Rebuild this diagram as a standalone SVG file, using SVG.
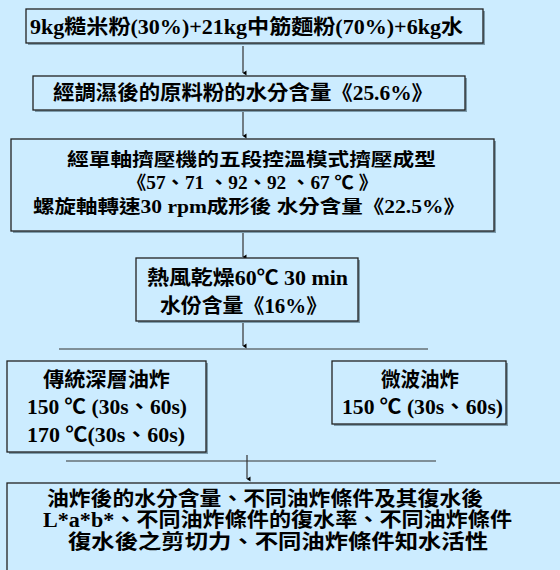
<svg xmlns="http://www.w3.org/2000/svg" width="560" height="570" viewBox="0 0 560 570">
<style>
.bg{fill:#CCECFF}
.box{fill:#CCECFF;stroke:#222;stroke-width:1.3}
.sh{fill:#7D9CAD}
.t{font-family:"Liberation Serif","Noto Sans CJK TC",serif;font-weight:bold;font-size:20px;fill:#000}
.s{font-size:18.5px}
.c{font-family:"Noto Sans CJK TC",sans-serif}
.ln{stroke:#333;stroke-width:1.2;fill:none}
</style>
<defs>
<marker id="ah" viewBox="0 0 6 6" refX="3" refY="5.5" markerWidth="6" markerHeight="6" orient="auto-start-reverse" markerUnits="userSpaceOnUse">
<path d="M0.5,2 L5.5,2 L3,6 Z" fill="#000"/>
</marker>
</defs>
<rect class="bg" x="0" y="0" width="560" height="570"/>
<g id="connectors">
<line class="ln" x1="243" y1="46" x2="243" y2="73" marker-end="url(#ah)"/>
<line class="ln" x1="243" y1="112" x2="243" y2="136" marker-end="url(#ah)"/>
<line class="ln" x1="243" y1="233" x2="243" y2="257" marker-end="url(#ah)"/>
<line class="ln" x1="243" y1="323" x2="243" y2="346" marker-end="url(#ah)"/>
<line class="ln" x1="59" y1="349" x2="428" y2="349"/>
<line class="ln" x1="66" y1="461" x2="436" y2="461"/>
<line class="ln" x1="247" y1="455" x2="247" y2="479" marker-end="url(#ah)"/>
</g>
<g id="n1">
<rect class="sh" x="28" y="11" width="457" height="34"/>
<rect class="box" x="26" y="9" width="457" height="34"/>
<text class="t" x="30" y="34" textLength="433" lengthAdjust="spacingAndGlyphs">9kg糙米粉(30%)+21kg中筋麵粉(70%)+6kg水</text>
</g>
<g id="n2">
<rect class="sh" x="35" y="78" width="432" height="34"/>
<rect class="box" x="33" y="76" width="432" height="34"/>
<text class="t" x="53" y="100" textLength="380" lengthAdjust="spacingAndGlyphs">經調濕後的原料粉的水分含量<tspan class="c">《</tspan>25.6%<tspan class="c">》</tspan></text>
</g>
<g id="n3">
<rect class="sh" x="13" y="141" width="483" height="92"/>
<rect class="box" x="11" y="139" width="483" height="92"/>
<text class="t s" x="67" y="166" textLength="369" lengthAdjust="spacingAndGlyphs">經單軸擠壓機的五段控溫模式擠壓成型</text>
<text class="t s" x="127" y="189" textLength="251" lengthAdjust="spacingAndGlyphs"><tspan class="c">《</tspan>57、71 、92、92 、67 ℃ <tspan class="c">》</tspan></text>
<text class="t s" x="33" y="213" textLength="432" lengthAdjust="spacingAndGlyphs">螺旋軸轉速30 rpm成形後 水分含量<tspan class="c">《</tspan>22.5%<tspan class="c">》</tspan></text>
</g>
<g id="n4">
<rect class="sh" x="138" y="260" width="222" height="63"/>
<rect class="box" x="136" y="258" width="222" height="63"/>
<text class="t" x="147" y="285" textLength="201" lengthAdjust="spacingAndGlyphs">熱風乾燥60℃ 30 min</text>
<text class="t" x="160" y="313" textLength="167" lengthAdjust="spacingAndGlyphs">水份含量<tspan class="c">《</tspan>16%<tspan class="c">》</tspan></text>
</g>
<g id="n5">
<rect class="sh" x="9" y="363" width="199" height="91"/>
<rect class="box" x="7" y="361" width="199" height="91"/>
<text class="t" x="43" y="387" textLength="127" lengthAdjust="spacingAndGlyphs">傳統深層油炸</text>
<text class="t" x="27" y="414" textLength="160" lengthAdjust="spacingAndGlyphs">150 ℃ (30s、60s)</text>
<text class="t" x="27" y="442" textLength="158" lengthAdjust="spacingAndGlyphs">170 ℃(30s、60s)</text>
</g>
<g id="n6">
<rect class="sh" x="334" y="363" width="174" height="63"/>
<rect class="box" x="332" y="361" width="174" height="63"/>
<text class="t" x="381" y="387" textLength="78" lengthAdjust="spacingAndGlyphs">微波油炸</text>
<text class="t" x="342" y="414" textLength="161" lengthAdjust="spacingAndGlyphs">150 ℃ (30s、60s)</text>
</g>
<g id="n7">
<rect class="sh" x="9" y="485" width="560" height="100"/>
<rect class="box" x="7" y="483" width="560" height="100"/>
<text class="t" x="47" y="506" textLength="436" lengthAdjust="spacingAndGlyphs">油炸後的水分含量、不同油炸條件及其復水後</text>
<text class="t" x="43" y="527" textLength="469" lengthAdjust="spacingAndGlyphs">L*a*b*、不同油炸條件的復水率、不同油炸條件</text>
<text class="t" x="68" y="549" textLength="420" lengthAdjust="spacingAndGlyphs">復水後之剪切力、不同油炸條件知水活性</text>
</g>
</svg>
